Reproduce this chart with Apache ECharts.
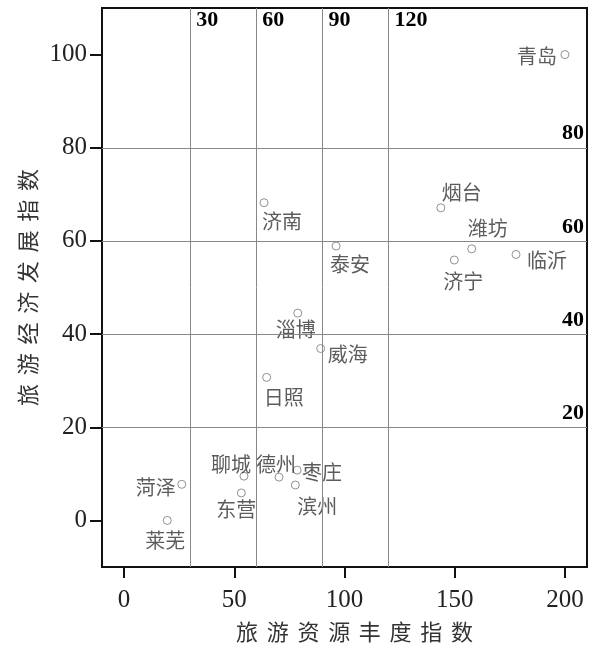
<!DOCTYPE html>
<html>
<head>
<meta charset="utf-8">
<script src="https://cdn.jsdelivr.net/npm/echarts@6/dist/echarts.min.js"></script>
<style>html,body{margin:0;padding:0;background:#fff}#c{width:599px;height:656px}</style>
</head>
<body>
<div id="c"></div>
<script>
// ---- data ----
var cities = ['青岛','烟台','潍坊','济宁','临沂','济南','泰安','淄博','威海','日照','菏泽','莱芜','聊城','东营','德州','枣庄','滨州'];
var resourceIndex = [200, 143.7, 157.7, 149.8, 177.8, 63.5, 96.2, 78.8, 89.2, 64.7, 26.2, 19.6, 54.4, 53.2, 70.3, 78.5, 77.7];
var economyIndex  = [100, 67.1, 58.3, 55.9, 57.1, 68.2, 58.9, 44.5, 36.9, 30.7, 7.75, 0, 9.5, 5.9, 9.3, 10.8, 7.6];
var xTicks = [0, 50, 100, 150, 200];
var yTicks = [0, 20, 40, 60, 80, 100];
var xRefLines = [30, 60, 90, 120];
var yRefLines = [20, 40, 60, 80];
var xTitle = '旅游资源丰度指数';
var yTitle = '旅游经济发展指数';

// ---- label placement (style, not data) ----
var labelOffset = {
  '青岛':[-28,2], '烟台':[21,-15], '潍坊':[16,-20], '济宁':[9,21], '临沂':[31,6],
  '济南':[18,19], '泰安':[14,18], '淄博':[-2,16], '威海':[27,6], '日照':[17,20],
  '菏泽':[-26,3], '莱芜':[-2,20], '聊城':[-13,-12], '东营':[-5,16], '德州':[-3,-13],
  '枣庄':[25,2], '滨州':[22,21]
};

var X_MIN = -10, X_MAX = 210, Y_MIN = -10, Y_MAX = 110;
var cjk = '"Noto Sans CJK SC", sans-serif';
var serif = '"Liberation Serif", "Times New Roman", serif';
function spaced(s) { return s.split('').join('\u2004\u200A'); }

var pts = cities.map(function (c, i) {
  return {
    name: c,
    value: [resourceIndex[i], economyIndex[i]],
    label: { offset: labelOffset[c] }
  };
});

var chart = echarts.init(document.getElementById('c'), null, { renderer: 'canvas' });
chart.setOption({
  animation: false,
  backgroundColor: '#fff',
  grid: { left: 102, top: 8, width: 485, height: 559, show: true, borderColor: '#111', borderWidth: 2, containLabel: false },
  xAxis: {
    type: 'value', min: X_MIN, max: X_MAX,
    axisLine: { show: true, onZero: false, lineStyle: { color: '#111', width: 2 } },
    axisTick: { show: true, length: 11, customValues: xTicks, lineStyle: { color: '#111', width: 2 } },
    axisLabel: { customValues: xTicks, margin: 21, color: '#222', fontSize: 25, fontFamily: serif },
    splitLine: { show: false },
    name: spaced(xTitle), nameLocation: 'middle', nameGap: 54,
    nameTextStyle: { fontSize: 22, color: '#333', fontFamily: cjk, padding: [0, 0, 0, 20] }
  },
  yAxis: {
    type: 'value', min: Y_MIN, max: Y_MAX,
    axisLine: { show: true, onZero: false, lineStyle: { color: '#111', width: 2 } },
    axisTick: { show: true, length: 12, customValues: yTicks, lineStyle: { color: '#111', width: 2 } },
    axisLabel: { customValues: yTicks, margin: 15, color: '#222', fontSize: 25, fontFamily: serif },
    splitLine: { show: false },
    name: spaced(yTitle), nameLocation: 'middle', nameGap: 58, nameRotate: 90,
    nameTextStyle: { fontSize: 22, color: '#333', fontFamily: cjk }
  },
  series: [
    {
      type: 'scatter',
      data: pts,
      symbol: 'circle',
      symbolSize: 8,
      itemStyle: { color: '#fff', borderColor: '#777', borderWidth: 1 },
      label: {
        show: true, position: 'inside', formatter: '{b}',
        align: 'center', verticalAlign: 'middle',
        fontSize: 20, color: '#333', fontFamily: cjk
      },
      markLine: {
        silent: true, symbol: ['none', 'none'], animation: false,
        label: { show: false },
        lineStyle: { color: '#888', width: 1, type: 'solid' },
        data: xRefLines.map(function (v) { return { xAxis: v }; })
          .concat(yRefLines.map(function (v) { return { yAxis: v }; }))
      },
      z: 3
    },
    {
      type: 'scatter',
      silent: true,
      clip: false,
      data: xRefLines.map(function (v) { return [v, Y_MAX]; }),
      symbolSize: 0,
      itemStyle: { color: '#000', opacity: 1 },
      label: {
        show: true, position: [6, 1], align: 'left', verticalAlign: 'top',
        formatter: function (p) { return String(p.value[0]); },
        fontSize: 22, fontWeight: 'bold', color: '#000', opacity: 1, fontFamily: serif,
        textBorderWidth: 0
      },
      z: 5
    },
    {
      type: 'scatter',
      silent: true,
      clip: false,
      data: yRefLines.map(function (v) { return [X_MAX, v]; }),
      symbolSize: 0,
      itemStyle: { color: '#000', opacity: 1 },
      label: {
        show: true, position: [-3, -3], align: 'right', verticalAlign: 'bottom',
        formatter: function (p) { return String(p.value[1]); },
        fontSize: 22, fontWeight: 'bold', color: '#000', opacity: 1, fontFamily: serif,
        textBorderWidth: 0
      },
      z: 5
    }
  ]
});
</script>
</body>
</html>
